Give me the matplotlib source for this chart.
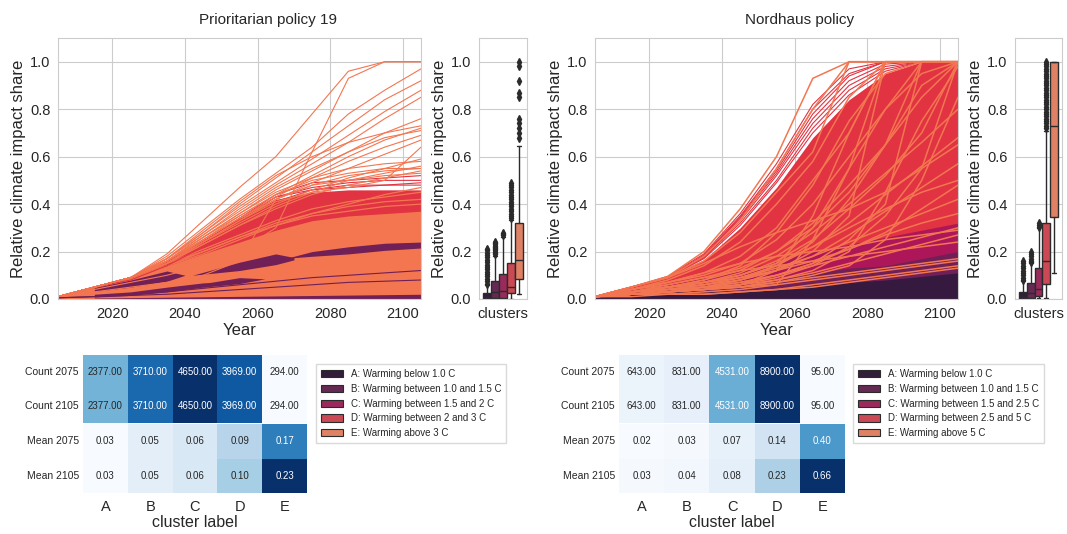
import colorsys
import numpy as np
import pandas as pd
import matplotlib
matplotlib.use("Agg")
import matplotlib.pyplot as plt
from matplotlib.patches import Patch
import seaborn as sns

sns.set_style("whitegrid")
plt.rcParams["font.family"] = ["Liberation Sans", "DejaVu Sans"]

# ---------------------------------------------------------------- data
years = [2005, 2015, 2025, 2035, 2045, 2055, 2065, 2075, 2085, 2095, 2105]
cluster_labels = ["A", "B", "C", "D", "E"]
cluster_colors = ["#35193e", "#701f57", "#ad1759", "#e13342", "#f37651"]

# Prioritarian policy 19: dense bundles (envelopes) of trajectories
prio_e_top = [0.015, 0.055, 0.095, 0.14, 0.19, 0.24, 0.29, 0.33, 0.35, 0.36, 0.37]
prio_d_low = [0.010, 0.045, 0.080, 0.12, 0.16, 0.20, 0.25, 0.28, 0.29, 0.30, 0.30]
prio_d_top = [0.015, 0.055, 0.095, 0.165, 0.25, 0.34, 0.42, 0.45, 0.46, 0.46, 0.46]

# purple (cluster B) bundles: (years, lower, upper)
prio_b_bands = [
    ([2015, 2025, 2035, 2040], [0.032, 0.05, 0.075, 0.10], [0.048, 0.08, 0.118, 0.10]),
    ([2015, 2025, 2035, 2045, 2052], [0.008, 0.015, 0.03, 0.05, 0.068], [0.02, 0.03, 0.05, 0.068, 0.068]),
    ([2045, 2055, 2062], [0.05, 0.065, 0.085], [0.065, 0.09, 0.085]),
    ([2042, 2055, 2065, 2070], [0.10, 0.12, 0.145, 0.165], [0.10, 0.155, 0.19, 0.175]),
    ([2068, 2075, 2085, 2095, 2105], [0.172, 0.18, 0.19, 0.205, 0.215], [0.172, 0.20, 0.22, 0.235, 0.24]),
    ([2015, 2105], [0.0, 0.0], [0.004, 0.02]),
]
prio_b_lines = [
    [0.005, 0.01, 0.02, 0.03, 0.045, 0.06, 0.075, 0.09, 0.10, 0.11, 0.12],
    [0.005, 0.01, 0.015, 0.02, 0.03, 0.04, 0.05, 0.06, 0.07, 0.075, 0.08],
]
prio_e_mid = [
    [0.01, 0.05, 0.09, 0.15, 0.21, 0.27, 0.33, 0.38, 0.41, 0.43, 0.45],
    [0.01, 0.05, 0.09, 0.15, 0.20, 0.26, 0.32, 0.36, 0.39, 0.41, 0.42],
    [0.01, 0.05, 0.09, 0.14, 0.20, 0.26, 0.31, 0.35, 0.37, 0.39, 0.40],
    [0.01, 0.05, 0.09, 0.14, 0.19, 0.25, 0.31, 0.36, 0.40, 0.44, 0.47],
]
prio_d_high = [
    [0.01, 0.05, 0.09, 0.15, 0.24, 0.34, 0.44, 0.49, 0.50, 0.51, 0.52],
    [0.01, 0.05, 0.09, 0.15, 0.23, 0.33, 0.43, 0.47, 0.49, 0.50, 0.50],
    [0.01, 0.05, 0.08, 0.14, 0.22, 0.32, 0.41, 0.46, 0.48, 0.48, 0.49],
    [0.01, 0.05, 0.09, 0.15, 0.23, 0.34, 0.43, 0.46, 0.47, 0.48, 0.48],
]
prio_e_high = [
    [0.01, 0.05, 0.09, 0.19, 0.33, 0.47, 0.60, 0.78, 0.96, 1.00, 1.00],
    [0.01, 0.04, 0.07, 0.10, 0.14, 0.20, 0.30, 0.62, 0.93, 1.00, 1.00],
    [0.01, 0.05, 0.09, 0.18, 0.30, 0.42, 0.53, 0.64, 0.78, 0.88, 0.97],
    [0.01, 0.05, 0.09, 0.17, 0.28, 0.40, 0.51, 0.62, 0.73, 0.84, 0.92],
    [0.01, 0.05, 0.09, 0.17, 0.28, 0.39, 0.49, 0.59, 0.69, 0.79, 0.88],
    [0.01, 0.05, 0.09, 0.17, 0.27, 0.38, 0.48, 0.57, 0.66, 0.76, 0.85],
    [0.01, 0.05, 0.09, 0.17, 0.29, 0.41, 0.52, 0.60, 0.66, 0.70, 0.73],
    [0.01, 0.05, 0.09, 0.16, 0.26, 0.36, 0.46, 0.54, 0.62, 0.70, 0.76],
    [0.01, 0.05, 0.09, 0.16, 0.27, 0.37, 0.47, 0.55, 0.62, 0.68, 0.71],
    [0.01, 0.05, 0.09, 0.16, 0.26, 0.35, 0.44, 0.52, 0.60, 0.67, 0.72],
    [0.01, 0.05, 0.09, 0.16, 0.25, 0.34, 0.43, 0.51, 0.58, 0.64, 0.69],
    [0.01, 0.05, 0.09, 0.16, 0.25, 0.34, 0.42, 0.49, 0.55, 0.61, 0.67],
    [0.01, 0.05, 0.09, 0.15, 0.24, 0.33, 0.41, 0.45, 0.47, 0.50, 0.64],
    [0.01, 0.05, 0.09, 0.15, 0.24, 0.32, 0.40, 0.46, 0.51, 0.55, 0.59],
    [0.01, 0.05, 0.09, 0.16, 0.26, 0.36, 0.45, 0.51, 0.55, 0.57, 0.58],
    [0.01, 0.05, 0.09, 0.15, 0.23, 0.31, 0.39, 0.45, 0.50, 0.53, 0.56],
    [0.01, 0.05, 0.09, 0.15, 0.25, 0.35, 0.44, 0.50, 0.53, 0.55, 0.55],
    [0.01, 0.05, 0.09, 0.15, 0.23, 0.31, 0.38, 0.44, 0.48, 0.51, 0.54],
    [0.01, 0.05, 0.09, 0.15, 0.24, 0.33, 0.42, 0.48, 0.52, 0.54, 0.55],
    [0.01, 0.03, 0.05, 0.07, 0.10, 0.16, 0.42, 0.48, 0.50, 0.52, 0.53],
]

# Nordhaus policy: stacked bundles per cluster
nord_a_top = [0.005, 0.02, 0.03, 0.03, 0.035, 0.045, 0.06, 0.07, 0.08, 0.095, 0.11]
nord_b_top = [0.008, 0.03, 0.045, 0.05, 0.06, 0.08, 0.11, 0.13, 0.14, 0.17, 0.20]
nord_c_top = [0.010, 0.04, 0.065, 0.09, 0.12, 0.16, 0.20, 0.23, 0.26, 0.29, 0.32]
nord_d_top = [0.015, 0.055, 0.095, 0.165, 0.30, 0.47, 0.68, 0.84, 0.95, 1.00, 1.00]
nord_d_high = [
    [0.01, 0.05, 0.095, 0.19, 0.36, 0.57, 0.82, 0.97, 1.00, 1.00, 1.00],
    [0.01, 0.05, 0.09, 0.185, 0.35, 0.55, 0.80, 0.95, 1.00, 1.00, 1.00],
    [0.01, 0.05, 0.09, 0.18, 0.345, 0.54, 0.78, 0.94, 1.00, 1.00, 1.00],
    [0.01, 0.05, 0.09, 0.18, 0.34, 0.53, 0.76, 0.92, 0.99, 1.00, 1.00],
    [0.01, 0.05, 0.09, 0.175, 0.33, 0.52, 0.74, 0.90, 0.98, 1.00, 1.00],
    [0.01, 0.05, 0.09, 0.175, 0.32, 0.50, 0.72, 0.88, 0.97, 1.00, 1.00],
    [0.01, 0.05, 0.09, 0.17, 0.31, 0.49, 0.70, 0.86, 0.96, 1.00, 1.00],
]
nord_e_lines = [
    [0.01, 0.05, 0.095, 0.20, 0.38, 0.60, 0.93, 1.00, 1.00, 1.00, 1.00],
    [0.01, 0.05, 0.09, 0.18, 0.33, 0.55, 0.80, 1.00, 1.00, 1.00, 1.00],
    [0.01, 0.05, 0.09, 0.16, 0.28, 0.45, 0.62, 1.00, 1.00, 1.00, 1.00],
    [0.01, 0.04, 0.08, 0.14, 0.24, 0.40, 0.58, 0.85, 1.00, 1.00, 1.00],
    [0.01, 0.04, 0.07, 0.11, 0.18, 0.30, 0.50, 0.70, 1.00, 1.00, 1.00],
    [0.01, 0.03, 0.05, 0.07, 0.10, 0.15, 0.30, 0.55, 1.00, 1.00, 1.00],
    [0.01, 0.03, 0.05, 0.06, 0.08, 0.12, 0.20, 0.35, 1.00, 1.00, 1.00],
    [0.01, 0.02, 0.03, 0.04, 0.06, 0.12, 0.35, 0.70, 1.00, 1.00, 1.00],
    [0.01, 0.04, 0.07, 0.10, 0.15, 0.25, 0.40, 0.60, 0.80, 1.00, 1.00],
    [0.01, 0.03, 0.05, 0.08, 0.14, 0.28, 0.48, 0.75, 0.95, 1.00, 1.00],
    [0.01, 0.03, 0.05, 0.08, 0.12, 0.20, 0.30, 0.45, 0.65, 1.00, 1.00],
    [0.01, 0.03, 0.04, 0.05, 0.07, 0.10, 0.15, 0.25, 0.40, 1.00, 1.00],
    [0.01, 0.04, 0.06, 0.09, 0.13, 0.20, 0.32, 0.48, 0.65, 0.85, 1.00],
    [0.01, 0.02, 0.03, 0.05, 0.08, 0.14, 0.24, 0.42, 0.65, 0.90, 1.00],
    [0.01, 0.03, 0.05, 0.07, 0.10, 0.16, 0.25, 0.38, 0.52, 0.70, 1.00],
    [0.01, 0.03, 0.04, 0.05, 0.06, 0.09, 0.14, 0.22, 0.35, 0.55, 1.00],
    [0.01, 0.02, 0.03, 0.04, 0.05, 0.08, 0.12, 0.20, 0.45, 0.75, 0.98],
    [0.01, 0.02, 0.03, 0.04, 0.05, 0.07, 0.10, 0.14, 0.25, 0.50, 0.85],
    [0.01, 0.03, 0.05, 0.07, 0.11, 0.18, 0.28, 0.40, 0.53, 0.66, 0.80],
    [0.01, 0.03, 0.04, 0.06, 0.09, 0.14, 0.22, 0.32, 0.44, 0.56, 0.68],
    [0.01, 0.02, 0.03, 0.05, 0.08, 0.12, 0.18, 0.27, 0.37, 0.47, 0.57],
    [0.01, 0.03, 0.05, 0.07, 0.10, 0.15, 0.22, 0.30, 0.38, 0.45, 0.50],
    [0.01, 0.03, 0.05, 0.07, 0.09, 0.12, 0.16, 0.21, 0.28, 0.38, 0.48],
    [0.01, 0.02, 0.04, 0.06, 0.09, 0.13, 0.18, 0.24, 0.30, 0.36, 0.42],
    [0.01, 0.02, 0.03, 0.04, 0.06, 0.10, 0.15, 0.21, 0.27, 0.32, 0.36],
    [0.01, 0.02, 0.03, 0.05, 0.07, 0.10, 0.14, 0.18, 0.22, 0.26, 0.30],
    [0.01, 0.02, 0.03, 0.04, 0.06, 0.08, 0.11, 0.15, 0.19, 0.23, 0.27],
    [0.01, 0.02, 0.03, 0.04, 0.05, 0.07, 0.09, 0.11, 0.13, 0.15, 0.17],
    [0.01, 0.02, 0.02, 0.03, 0.04, 0.06, 0.08, 0.10, 0.12, 0.14, 0.16],
    [0.01, 0.02, 0.02, 0.02, 0.03, 0.04, 0.06, 0.08, 0.10, 0.12, 0.14],
    [0.01, 0.01, 0.02, 0.02, 0.03, 0.04, 0.05, 0.07, 0.09, 0.11, 0.13],
    [0.01, 0.03, 0.06, 0.09, 0.12, 0.14, 0.16, 0.18, 0.20, 0.22, 0.24],
    [0.01, 0.04, 0.07, 0.11, 0.15, 0.18, 0.20, 0.22, 0.25, 0.27, 0.29],
    [0.01, 0.05, 0.09, 0.15, 0.22, 0.28, 0.33, 0.38, 0.45, 0.55, 0.65],
    [0.01, 0.03, 0.04, 0.05, 0.05, 0.06, 0.25, 0.55, 0.80, 0.95, 1.00],
]

# box statistics per cluster: (whislo, q1, med, q3, whishi)
prio_box = [
    (0.0, 0.0, 0.008, 0.026, 0.06),
    (0.0, 0.004, 0.028, 0.075, 0.18),
    (0.0, 0.004, 0.035, 0.105, 0.26),
    (0.0, 0.025, 0.049, 0.153, 0.335),
    (0.02, 0.083, 0.165, 0.32, 0.645),
]
prio_fliers = [
    [0.065, 0.075, 0.085, 0.095, 0.105, 0.115, 0.125, 0.135, 0.145, 0.155, 0.165, 0.175, 0.185, 0.195, 0.205, 0.21],
    [0.19, 0.195, 0.20, 0.205, 0.21, 0.215, 0.22, 0.225, 0.23, 0.235, 0.24],
    [0.268, 0.275, 0.28],
    [0.34, 0.35, 0.36, 0.37, 0.38, 0.39, 0.40, 0.41, 0.42, 0.43, 0.44, 0.45, 0.46, 0.47, 0.48, 0.49],
    [0.68, 0.70, 0.72, 0.74, 0.76, 0.85, 0.87, 0.92, 0.98, 1.0],
]
nord_box = [
    (0.0, 0.0, 0.008, 0.031, 0.075),
    (0.0, 0.004, 0.024, 0.066, 0.15),
    (0.003, 0.013, 0.041, 0.13, 0.30),
    (0.004, 0.063, 0.162, 0.322, 0.71),
    (0.111, 0.345, 0.731, 1.0, 1.0),
]
nord_fliers = [
    [0.08, 0.09, 0.10, 0.11, 0.12, 0.13, 0.14, 0.15, 0.16],
    [0.155, 0.16, 0.17, 0.18, 0.19, 0.20],
    [0.305, 0.31, 0.32],
    [0.72, 0.73, 0.74, 0.75, 0.76, 0.77, 0.78, 0.79, 0.80, 0.81, 0.82, 0.83, 0.84, 0.85,
     0.86, 0.87, 0.88, 0.89, 0.90, 0.91, 0.92, 0.93, 0.94, 0.95, 0.96, 0.97, 0.98, 0.99, 1.0],
    [],
]

# table values
prio_count_2075 = [2377, 3710, 4650, 3969, 294]
prio_count_2105 = [2377, 3710, 4650, 3969, 294]
prio_mean_2075 = [0.03, 0.05, 0.06, 0.09, 0.17]
prio_mean_2105 = [0.03, 0.05, 0.06, 0.10, 0.23]
nord_count_2075 = [643, 831, 4531, 8900, 95]
nord_count_2105 = [643, 831, 4531, 8900, 95]
nord_mean_2075 = [0.02, 0.03, 0.07, 0.14, 0.40]
nord_mean_2105 = [0.03, 0.04, 0.08, 0.23, 0.66]

prio_legend = ["A: Warming below 1.0 C", "B: Warming between 1.0 and 1.5 C",
               "C: Warming between 1.5 and 2 C", "D: Warming between 2 and 3 C",
               "E: Warming above 3 C"]
nord_legend = ["A: Warming below 1.0 C", "B: Warming between 1.0 and 1.5 C",
               "C: Warming between 1.5 and 2.5 C", "D: Warming between 2.5 and 5 C",
               "E: Warming above 5 C"]

# ---------------------------------------------------------------- layout
W, H = 1067, 534
fig = plt.figure(figsize=(W / 100, H / 100), dpi=100)
TXT = "0.15"


def px_axes(x0, y0, x1, y1):
    return fig.add_axes([x0 / W, 1 - y1 / H, (x1 - x0) / W, (y1 - y0) / H])


def desaturate(c, prop=0.75):
    r, g, b = matplotlib.colors.to_rgb(c)
    h, l, s = colorsys.rgb_to_hls(r, g, b)
    return colorsys.hls_to_rgb(h, l, s * prop)


box_colors = [desaturate(c) for c in cluster_colors]
line_gray = "#2b2b2b"


def style_share_axis(ax):
    ax.set_ylim(0, 1.1)
    ax.set_yticks([0.0, 0.2, 0.4, 0.6, 0.8, 1.0])
    ax.set_yticklabels(["0.0", "0.2", "0.4", "0.6", "0.8", "1.0"])
    ax.tick_params(labelsize=10.5, colors=TXT, pad=2)
    ax.set_ylabel("Relative climate impact share", fontsize=12, color=TXT, labelpad=3)


def line_panel(ax):
    ax.set_xlim(2005, 2105)
    ax.set_xticks([2020, 2040, 2060, 2080, 2100])
    style_share_axis(ax)
    ax.set_xlabel("Year", fontsize=12, color=TXT, labelpad=2)


def box_panel(ax, stats, fliers):
    recs = []
    for (lo, q1, med, q3, hi), fl in zip(stats, fliers):
        recs.append(dict(whislo=lo, q1=q1, med=med, q3=q3, whishi=hi, fliers=fl))
    pos = [-0.34, -0.17, 0.0, 0.17, 0.34]
    art = ax.bxp(recs, positions=pos, widths=0.17, patch_artist=True,
                 capwidths=0.085, manage_ticks=False,
                 boxprops=dict(edgecolor=line_gray, linewidth=1.0),
                 medianprops=dict(color=line_gray, linewidth=1.0),
                 whiskerprops=dict(color=line_gray, linewidth=1.0),
                 capprops=dict(color=line_gray, linewidth=1.0),
                 flierprops=dict(marker="d", markerfacecolor=line_gray,
                                 markeredgecolor=line_gray, markersize=4))
    for patch, col in zip(art["boxes"], box_colors):
        patch.set_facecolor(col)
    ax.set_xlim(-0.5, 0.5)
    ax.set_xticks([0.0])
    ax.set_xticklabels(["clusters"])
    ax.xaxis.grid(False)
    style_share_axis(ax)


def table_panel(ax_c, ax_m, counts, means, legend_labels, legend_xy):
    cdf = pd.DataFrame([counts[0], counts[1]], index=["Count 2075", "Count 2105"],
                       columns=cluster_labels)
    mdf = pd.DataFrame([means[0], means[1]], index=["Mean 2075", "Mean 2105"],
                       columns=cluster_labels)
    sns.heatmap(cdf, ax=ax_c, cmap="Blues", annot=True, fmt=".2f", cbar=False,
                annot_kws=dict(fontsize=7))
    sns.heatmap(mdf, ax=ax_m, cmap="Blues", annot=True, fmt=".2f", cbar=False,
                annot_kws=dict(fontsize=7))
    for a in (ax_c, ax_m):
        a.tick_params(axis="y", labelsize=7.5, rotation=0, colors=TXT, length=0, pad=3)
    ax_c.set_xticks([])
    ax_c.set_xlabel("")
    ax_m.tick_params(axis="x", labelsize=10.5, colors=TXT, length=0, pad=5)
    ax_m.set_xlabel("cluster label", fontsize=11.5, color=TXT, labelpad=1)
    handles = [Patch(facecolor=c, edgecolor=line_gray, linewidth=0.8) for c in box_colors]
    fig.legend(handles, legend_labels, loc="upper left",
               bbox_to_anchor=(legend_xy[0] / W, 1 - legend_xy[1] / H),
               fontsize=7, handlelength=2.3, handleheight=0.75, labelspacing=0.5,
               borderpad=0.5, frameon=True, fancybox=False, edgecolor="0.85",
               framealpha=1.0, borderaxespad=0)


# ---------------------------------------------------------------- Prioritarian
ax1 = px_axes(58, 38, 421, 299)
c = cluster_colors
ax1.fill_between(years, prio_d_low, prio_d_top, color=c[3], lw=0)
ax1.fill_between(years, 0, prio_e_top, color=c[4], lw=0)
for v in prio_e_mid:
    ax1.plot(years, v, color=c[4], lw=0.9)
for yrs, lo, hi in prio_b_bands:
    ax1.fill_between(yrs, lo, hi, color=c[1], lw=0)
for v in prio_b_lines:
    ax1.plot(years, v, color=c[1], lw=0.8)
for v in prio_d_high:
    ax1.plot(years, v, color=c[3], lw=0.8)
for v in prio_e_high:
    ax1.plot(years, v, color=c[4], lw=0.8)
line_panel(ax1)

ax2 = px_axes(479, 38, 527, 299)
box_panel(ax2, prio_box, prio_fliers)

fig.text(268 / W, 1 - 20 / H, "Prioritarian policy 19", ha="center", va="center",
         fontsize=11, color=TXT)

ax3 = px_axes(83, 355, 307, 423)
ax4 = px_axes(83, 424, 307, 493)
table_panel(ax3, ax4, [prio_count_2075, prio_count_2105],
            [prio_mean_2075, prio_mean_2105], prio_legend, (316, 364))

# ---------------------------------------------------------------- Nordhaus
ax5 = px_axes(595, 38, 958, 299)
ax5.fill_between(years, 0, nord_d_top, color=c[3], lw=0)
ax5.fill_between(years, 0, nord_c_top, color=c[2], lw=0)
ax5.fill_between(years, 0, nord_b_top, color=c[1], lw=0)
ax5.fill_between(years, 0, nord_a_top, color=c[0], lw=0)
for v in nord_d_high:
    ax5.plot(years, v, color=c[3], lw=0.8)
for v in nord_e_lines:
    ax5.plot(years, v, color=c[4], lw=1.1)
line_panel(ax5)

ax6 = px_axes(1015, 38, 1062, 299)
box_panel(ax6, nord_box, nord_fliers)

fig.text(800 / W, 1 - 20 / H, "Nordhaus policy", ha="center", va="center",
         fontsize=11, color=TXT)

ax7 = px_axes(619, 355, 845, 423)
ax8 = px_axes(619, 424, 845, 493)
table_panel(ax7, ax8, [nord_count_2075, nord_count_2105],
            [nord_mean_2075, nord_mean_2105], nord_legend, (853, 364))

fig.savefig("out.png", dpi=100)
